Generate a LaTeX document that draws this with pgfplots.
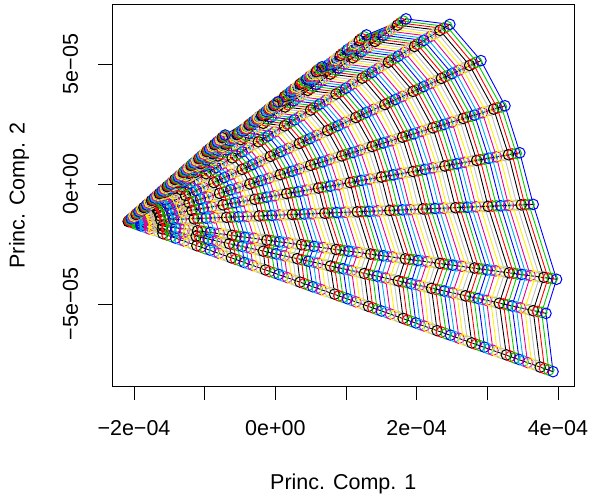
\documentclass[border=0pt]{standalone}
\usepackage{pgfplots}
\pgfplotsset{compat=1.18}
\usepackage{fontspec}
\setmainfont{Liberation Sans}
\definecolor{rgreen}{HTML}{00CD00}
\definecolor{rgray}{HTML}{BEBEBE}
\pgfplotscreateplotcyclelist{rpal}{
{black,mark=o},{red,mark=o},{rgreen,mark=o},{blue,mark=o},{cyan,mark=o},{magenta,mark=o},{yellow,mark=o},{rgray,mark=o}}
\def\P{\addplot coordinates}
\begin{document}
\begin{tikzpicture}
\path[use as bounding box] (0,0) rectangle (589bp,499bp);
\begin{axis}[at={(112.5bp,113bp)},anchor=south west,scale only axis,width=461.5bp,height=381.3bp,
xmin=-230.4,xmax=422.7,ymin=-841.7,ymax=747,
xtick={-200,-100,0,100,200,300,400},xticklabels={−2e−04,,0e+00,,2e−04,,4e−04},
ytick={-500,0,500},yticklabels={−5e−05,0e+00,5e−05},
tick align=outside,xtick pos=bottom,ytick pos=left,major tick length=14bp,
every tick/.style={black,line width=0.8bp},axis line style={line width=0.9bp},
tick label style={font=\fontsize{21.5bp}{24bp}\selectfont},
xticklabel style={anchor=center,yshift=-28bp},
yticklabel style={rotate=90,anchor=center,yshift=28bp},
every axis x label/.style={at={(axis description cs:0.5,0)},anchor=center,yshift=-98bp,font=\fontsize{21.5bp}{24bp}\selectfont},
every axis y label/.style={at={(axis description cs:0,0.5)},anchor=center,rotate=90,yshift=93.5bp,font=\fontsize{21.5bp}{24bp}\selectfont},
xlabel={Princ. Comp. 1},ylabel={Princ. Comp. 2},
cycle list name=rpal,
every axis plot/.append style={line width=0.9bp,mark size=5.3bp,mark options={solid,line width=1bp}}]
\P{(-208,-156)(-208,-156)};
\P{(-202,-162)(-202,-160)(-202,-158)(-202,-155)(-202,-153)(-203,-151)(-203,-149)(-203,-148)(-204,-147)(-205,-148)(-205,-150)(-206,-151)(-207,-152)};
\P{(-196,-169)(-196,-164)(-196,-161)(-196,-155)(-197,-150)(-197,-146)(-198,-142)(-199,-139)(-200,-139)(-201,-140)(-202,-143)(-204,-146)(-205,-149)};
\P{(-190,-175)(-190,-168)(-190,-163)(-191,-154)(-191,-147)(-192,-141)(-193,-136)(-194,-131)(-196,-130)(-198,-132)(-200,-136)(-202,-141)(-204,-145)};
\P{(-184,-181)(-184,-171)(-184,-166)(-185,-153)(-186,-144)(-186,-137)(-188,-129)(-190,-123)(-192,-122)(-194,-125)(-197,-130)(-199,-136)(-202,-141)};
\P{(-178,-188)(-178,-175)(-177,-168)(-179,-152)(-180,-142)(-181,-132)(-183,-122)(-185,-115)(-188,-113)(-191,-117)(-194,-123)(-197,-131)(-201,-138)};
\P{(-172,-194)(-172,-179)(-171,-171)(-173,-152)(-174,-139)(-176,-127)(-178,-115)(-180,-106)(-184,-105)(-188,-109)(-191,-117)(-195,-126)(-200,-134)};
\P{(-165,-200)(-166,-183)(-165,-173)(-167,-151)(-169,-136)(-170,-122)(-173,-109)(-176,-98)(-180,-96)(-184,-101)(-189,-110)(-193,-121)(-198,-131)};
\P{(-159,-207)(-160,-187)(-159,-175)(-162,-150)(-163,-133)(-165,-117)(-168,-102)(-171,-90)(-176,-88)(-181,-93)(-186,-104)(-191,-116)(-197,-127)};
\P{(-153,-213)(-154,-191)(-153,-178)(-156,-150)(-158,-130)(-160,-112)(-163,-95)(-167,-81)(-172,-79)(-177,-85)(-183,-97)(-189,-111)(-196,-123)};
\P{(-147,-219)(-148,-195)(-147,-180)(-150,-149)(-152,-127)(-154,-107)(-158,-88)(-162,-73)(-168,-71)(-174,-78)(-180,-91)(-187,-106)(-194,-120)};
\P{(-141,-226)(-142,-199)(-141,-183)(-144,-148)(-146,-124)(-149,-102)(-153,-82)(-157,-65)(-164,-62)(-171,-70)(-178,-84)(-184,-101)(-193,-116)};
\P{(-135,-232)(-136,-202)(-135,-185)(-139,-147)(-141,-121)(-143,-98)(-148,-75)(-153,-57)(-160,-54)(-167,-62)(-175,-78)(-182,-96)(-191,-112)};
\P{(-129,-238)(-130,-206)(-128,-188)(-133,-147)(-135,-118)(-138,-93)(-143,-68)(-148,-48)(-156,-45)(-164,-54)(-172,-71)(-180,-91)(-190,-109)};
\P{(-123,-244)(-124,-210)(-122,-190)(-127,-146)(-130,-116)(-133,-88)(-138,-61)(-144,-40)(-152,-37)(-160,-46)(-169,-65)(-178,-86)(-189,-105)};
\P{(-117,-251)(-118,-214)(-116,-192)(-121,-145)(-124,-113)(-127,-83)(-132,-54)(-139,-32)(-148,-28)(-157,-38)(-166,-58)(-176,-81)(-187,-101)};
\P{(-111,-257)(-112,-218)(-110,-195)(-115,-145)(-118,-110)(-122,-78)(-127,-48)(-134,-23)(-144,-20)(-153,-30)(-164,-52)(-174,-76)(-186,-98)};
\P{(-105,-263)(-107,-222)(-104,-197)(-110,-144)(-113,-107)(-116,-73)(-122,-41)(-130,-15)(-141,-11)(-150,-23)(-161,-45)(-172,-70)(-184,-94)};
\P{(-99,-270)(-101,-226)(-98,-200)(-104,-143)(-107,-104)(-111,-68)(-117,-34)(-125,-7)(-137,-3)(-147,-15)(-158,-39)(-169,-65)(-183,-91)};
\P{(-92,-276)(-95,-230)(-92,-202)(-98,-142)(-102,-101)(-106,-63)(-112,-27)(-121,2)(-133,6)(-143,-7)(-155,-32)(-167,-60)(-182,-87)};
\P{(-86,-282)(-89,-233)(-86,-205)(-92,-142)(-96,-98)(-100,-59)(-107,-21)(-116,10)(-129,15)(-140,1)(-153,-26)(-165,-55)(-180,-83)};
\P{(-80,-289)(-83,-237)(-79,-207)(-86,-141)(-90,-95)(-95,-54)(-102,-14)(-111,18)(-125,23)(-136,9)(-150,-19)(-163,-50)(-179,-80)};
\P{(-74,-295)(-77,-241)(-73,-209)(-81,-140)(-85,-92)(-90,-49)(-97,-7)(-107,26)(-121,32)(-133,17)(-147,-13)(-161,-45)(-178,-76)};
\P{(-68,-301)(-71,-245)(-67,-212)(-75,-140)(-79,-90)(-84,-44)(-92,0)(-102,35)(-117,40)(-130,25)(-144,-6)(-159,-40)(-176,-72)};
\P{(-62,-308)(-65,-249)(-61,-214)(-69,-139)(-74,-87)(-79,-39)(-87,6)(-98,43)(-113,49)(-126,32)(-142,0)(-157,-35)(-175,-69)};
\P{(-56,-314)(-59,-253)(-55,-217)(-63,-138)(-68,-84)(-73,-34)(-82,13)(-93,51)(-109,57)(-123,40)(-139,7)(-154,-30)(-173,-65)};
\P{(-50,-320)(-53,-257)(-49,-219)(-58,-137)(-62,-81)(-68,-29)(-77,20)(-88,60)(-105,66)(-119,48)(-136,13)(-152,-25)(-172,-61)};
\P{(-44,-327)(-47,-260)(-43,-222)(-52,-137)(-57,-78)(-63,-24)(-72,27)(-84,68)(-101,74)(-116,56)(-133,20)(-150,-20)(-171,-58)};
\P{(-38,-333)(-41,-264)(-37,-224)(-46,-136)(-51,-75)(-57,-20)(-67,34)(-79,76)(-97,83)(-113,64)(-130,26)(-148,-15)(-169,-54)};
\P{(-32,-339)(-35,-268)(-30,-226)(-40,-135)(-46,-72)(-52,-15)(-62,40)(-75,84)(-93,91)(-109,72)(-128,33)(-146,-10)(-168,-50)};
\P{(-26,-346)(-29,-272)(-24,-229)(-34,-134)(-40,-69)(-46,-10)(-57,47)(-70,93)(-89,100)(-106,80)(-125,39)(-144,-5)(-166,-47)};
\P{(-20,-352)(-23,-276)(-18,-231)(-29,-134)(-34,-66)(-41,-5)(-52,54)(-65,101)(-85,108)(-102,88)(-122,46)(-142,0)(-165,-43)};
\P{(-14,-358)(-17,-280)(-12,-234)(-23,-133)(-29,-64)(-36,0)(-47,61)(-61,109)(-81,117)(-99,95)(-119,52)(-139,5)(-164,-40)};
\P{(-8,-365)(-11,-284)(-6,-236)(-17,-132)(-23,-61)(-30,5)(-42,67)(-56,118)(-77,125)(-96,103)(-117,59)(-137,10)(-162,-36)};
\P{(-1,-371)(-5,-288)(0,-239)(-11,-132)(-18,-58)(-25,10)(-37,74)(-52,126)(-73,134)(-92,111)(-114,65)(-135,15)(-161,-32)};
\P{(5,-377)(1,-291)(6,-241)(-5,-131)(-12,-55)(-20,14)(-32,81)(-47,134)(-69,142)(-89,119)(-111,72)(-133,20)(-160,-29)};
\P{(11,-384)(7,-295)(12,-243)(0,-130)(-6,-52)(-14,19)(-27,88)(-42,142)(-65,151)(-85,127)(-108,78)(-131,25)(-158,-25)};
\P{(17,-390)(13,-299)(19,-246)(6,-129)(-1,-49)(-9,24)(-22,94)(-38,151)(-61,159)(-82,134)(-106,85)(-129,30)(-157,-21)};
\P{(23,-396)(19,-303)(25,-248)(12,-129)(5,-46)(-3,29)(-17,101)(-33,159)(-57,168)(-79,142)(-103,91)(-127,35)(-155,-18)};
\P{(29,-403)(25,-307)(31,-251)(18,-128)(10,-43)(2,34)(-12,108)(-29,167)(-53,176)(-75,150)(-100,98)(-124,40)(-154,-14)};
\P{(35,-409)(31,-311)(37,-253)(24,-127)(16,-40)(7,39)(-7,115)(-24,176)(-49,185)(-72,158)(-97,104)(-122,45)(-153,-11)};
\P{(41,-415)(37,-315)(43,-256)(29,-127)(22,-37)(13,44)(-2,122)(-19,184)(-45,194)(-68,166)(-95,111)(-120,50)(-151,-7)};
\P{(47,-422)(43,-319)(49,-258)(35,-126)(27,-35)(18,49)(3,128)(-15,192)(-41,202)(-65,174)(-92,117)(-118,55)(-150,-3)};
\P{(53,-428)(47,-322)(55,-260)(41,-125)(33,-32)(24,53)(8,135)(-10,200)(-37,211)(-62,182)(-89,124)(-116,60)(-148,0)};
\P{(59,-434)(54,-326)(61,-263)(47,-124)(38,-29)(29,58)(14,142)(-6,209)(-33,219)(-58,189)(-86,130)(-114,65)(-147,4)};
\P{(65,-440)(60,-330)(68,-265)(52,-124)(44,-26)(34,63)(19,149)(-1,217)(-29,228)(-55,197)(-84,137)(-112,70)(-146,8)};
\P{(71,-447)(66,-334)(74,-268)(58,-123)(50,-23)(40,68)(24,155)(4,225)(-25,236)(-51,205)(-81,143)(-110,75)(-144,11)};
\P{(78,-453)(72,-338)(80,-270)(64,-122)(55,-20)(45,73)(29,162)(8,234)(-21,245)(-48,213)(-78,150)(-107,80)(-143,15)};
\P{(84,-459)(78,-342)(86,-273)(70,-122)(61,-17)(50,78)(34,169)(13,242)(-17,253)(-45,221)(-75,156)(-105,85)(-142,19)};
\P{(90,-466)(84,-346)(92,-275)(75,-121)(66,-14)(56,83)(39,176)(17,250)(-13,262)(-41,229)(-72,163)(-103,90)(-140,22)};
\P{(96,-472)(90,-350)(98,-278)(81,-120)(72,-12)(61,88)(44,183)(22,259)(-10,270)(-38,237)(-70,169)(-101,96)(-139,26)};
\P{(102,-478)(96,-353)(104,-280)(87,-119)(78,-9)(67,92)(49,189)(27,267)(-6,279)(-34,244)(-67,176)(-99,101)(-137,29)};
\P{(108,-485)(102,-357)(110,-282)(93,-119)(83,-6)(72,97)(54,196)(31,275)(-2,287)(-31,252)(-64,182)(-97,106)(-136,33)};
\P{(114,-491)(108,-361)(117,-285)(99,-118)(89,-3)(77,102)(59,203)(36,283)(2,296)(-27,260)(-61,189)(-95,111)(-135,37)};
\P{(120,-497)(114,-365)(123,-287)(104,-117)(94,0)(83,107)(64,210)(40,292)(6,304)(-24,268)(-59,195)(-92,116)(-133,40)};
\P{(126,-504)(120,-369)(129,-290)(110,-117)(100,3)(88,112)(69,216)(45,300)(10,313)(-21,276)(-56,202)(-90,121)(-132,44)};
\P{(132,-510)(126,-373)(135,-292)(116,-116)(106,6)(94,117)(74,223)(50,308)(14,321)(-17,284)(-53,208)(-88,126)(-130,48)};
\P{(138,-516)(132,-377)(141,-295)(122,-115)(111,9)(99,122)(79,230)(54,317)(18,330)(-14,291)(-50,215)(-86,131)(-129,51)};
\P{(144,-523)(138,-381)(147,-297)(128,-114)(117,12)(104,127)(84,237)(59,325)(22,338)(-10,299)(-48,221)(-84,136)(-128,55)};
\P{(150,-529)(144,-384)(153,-299)(133,-114)(122,15)(110,131)(89,243)(63,333)(26,347)(-7,307)(-45,228)(-82,141)(-126,59)};
\P{(157,-535)(150,-388)(159,-302)(139,-113)(128,17)(115,136)(94,250)(68,341)(30,356)(-4,315)(-42,234)(-80,146)(-125,62)};
\P{(163,-542)(156,-392)(166,-304)(145,-112)(134,20)(120,141)(99,257)(72,350)(34,364)(0,323)(-39,241)(-77,151)(-124,66)};
\P{(169,-548)(162,-396)(172,-307)(151,-112)(139,23)(126,146)(104,264)(77,358)(38,373)(3,331)(-36,247)(-75,156)(-122,69)};
\P{(175,-554)(168,-400)(178,-309)(157,-111)(145,26)(131,151)(109,271)(82,366)(42,381)(7,339)(-34,254)(-73,161)(-121,73)};
\P{(181,-560)(174,-404)(184,-312)(162,-110)(150,29)(137,156)(114,277)(86,375)(46,390)(10,346)(-31,260)(-71,166)(-119,77)};
\P{(187,-567)(180,-408)(190,-314)(168,-109)(156,32)(142,161)(119,284)(91,383)(50,398)(13,354)(-28,267)(-69,171)(-118,80)};
\P{(193,-573)(186,-411)(196,-316)(174,-109)(162,35)(147,166)(124,291)(95,391)(54,407)(17,362)(-25,273)(-67,176)(-117,84)};
\P{(199,-579)(192,-415)(202,-319)(180,-108)(167,38)(153,171)(129,298)(100,399)(58,415)(20,370)(-23,280)(-65,181)(-115,88)};
\P{(205,-586)(198,-419)(208,-321)(186,-107)(173,41)(158,175)(134,304)(105,408)(62,424)(24,378)(-20,286)(-62,186)(-114,91)};
\P{(211,-592)(204,-423)(215,-324)(191,-107)(178,44)(164,180)(139,311)(109,416)(66,432)(27,386)(-17,293)(-60,191)(-112,95)};
\P{(217,-598)(210,-427)(221,-326)(197,-106)(184,46)(169,185)(145,318)(114,424)(70,441)(30,394)(-14,299)(-58,196)(-111,99)};
\P{(223,-605)(216,-431)(227,-329)(203,-105)(190,49)(174,190)(150,325)(118,432)(74,449)(34,401)(-11,306)(-56,201)(-110,102)};
\P{(229,-611)(221,-435)(233,-331)(209,-104)(195,52)(180,195)(155,331)(123,441)(78,458)(37,409)(-9,312)(-54,206)(-108,106)};
\P{(235,-617)(227,-439)(239,-333)(214,-104)(201,55)(185,200)(160,338)(128,449)(82,466)(41,417)(-6,319)(-52,211)(-107,109)};
\P{(242,-624)(233,-442)(245,-336)(220,-103)(206,58)(190,204)(165,345)(132,457)(86,475)(44,425)(-3,325)(-50,216)(-105,113)};
\P{(248,-630)(239,-446)(251,-338)(226,-102)(212,61)(196,209)(170,352)(137,465)(90,483)(48,433)(0,332)(-47,221)(-104,117)};
\P{(254,-636)(245,-450)(257,-341)(232,-102)(218,64)(201,214)(175,359)(141,474)(94,492)(51,441)(2,338)(-45,226)(-103,120)};
\P{(260,-643)(251,-454)(264,-343)(238,-101)(223,67)(207,219)(180,365)(146,482)(98,500)(54,449)(5,345)(-43,231)(-101,124)};
\P{(266,-649)(257,-458)(270,-345)(243,-100)(229,70)(212,224)(185,372)(151,490)(102,509)(58,456)(8,351)(-41,236)(-100,128)};
\P{(272,-655)(263,-462)(276,-348)(249,-99)(234,72)(217,229)(190,379)(155,499)(106,517)(61,464)(11,358)(-39,241)(-98,131)};
\P{(278,-662)(269,-466)(282,-350)(255,-99)(240,75)(223,234)(195,386)(160,507)(110,526)(65,472)(13,364)(-37,246)(-97,135)};
\P{(284,-668)(275,-469)(288,-353)(261,-98)(246,78)(228,239)(200,392)(164,515)(114,534)(68,480)(16,371)(-35,251)(-96,139)};
\P{(290,-674)(281,-473)(294,-355)(267,-97)(251,81)(234,243)(205,399)(169,523)(118,543)(71,488)(19,377)(-32,256)(-94,142)};
\P{(296,-680)(287,-477)(300,-358)(272,-97)(257,84)(239,248)(210,406)(174,532)(122,552)(75,496)(22,384)(-30,261)(-93,146)};
\P{(302,-687)(293,-481)(306,-360)(278,-96)(262,87)(244,253)(215,413)(178,540)(126,560)(78,504)(24,390)(-28,266)(-91,149)};
\P{(308,-693)(299,-485)(312,-362)(284,-95)(268,90)(250,258)(220,419)(183,548)(130,569)(82,512)(27,397)(-26,271)(-90,153)};
\P{(314,-699)(305,-489)(319,-365)(290,-94)(274,93)(255,263)(225,426)(187,557)(134,577)(85,519)(30,403)(-24,276)(-89,157)};
\P{(320,-706)(311,-493)(325,-367)(296,-94)(279,96)(261,268)(230,433)(192,565)(137,586)(88,527)(33,410)(-22,281)(-87,160)};
\P{(327,-712)(317,-497)(331,-370)(301,-93)(285,98)(266,273)(235,440)(197,573)(141,594)(92,535)(35,416)(-19,286)(-86,164)};
\P{(333,-718)(323,-500)(337,-372)(307,-92)(290,101)(271,278)(240,447)(201,582)(145,603)(95,543)(38,423)(-17,291)(-84,168)};
\P{(339,-725)(329,-504)(343,-375)(313,-91)(296,104)(277,282)(245,453)(206,590)(149,611)(99,551)(41,429)(-15,297)(-83,171)};
\P{(345,-731)(335,-508)(349,-377)(319,-91)(302,107)(282,287)(250,460)(210,598)(153,620)(102,559)(44,436)(-13,302)(-82,175)};
\P{(351,-737)(341,-512)(355,-379)(325,-90)(307,110)(287,292)(255,467)(215,606)(157,628)(105,566)(47,442)(-11,307)(-80,179)};
\P{(357,-744)(347,-516)(361,-382)(330,-89)(313,113)(293,297)(260,474)(220,615)(161,637)(109,574)(49,449)(-9,312)(-79,182)};
\P{(363,-750)(353,-520)(368,-384)(336,-89)(318,116)(298,302)(265,481)(224,623)(165,645)(112,582)(52,455)(-7,317)(-77,186)};
\P{(369,-756)(359,-524)(374,-387)(342,-88)(324,119)(304,307)(270,487)(229,631)(169,654)(116,590)(55,462)(-4,322)(-76,189)};
\P{(375,-763)(365,-528)(380,-389)(348,-87)(330,122)(309,312)(275,494)(233,640)(173,662)(119,598)(58,468)(-2,327)(-75,193)};
\P{(381,-769)(371,-531)(386,-392)(353,-86)(335,125)(314,317)(280,501)(238,648)(177,671)(122,606)(60,475)(0,332)(-73,197)};
\P{(387,-775)(377,-535)(392,-394)(359,-86)(341,127)(320,321)(285,508)(243,656)(181,679)(126,613)(63,481)(2,337)(-72,200)};
\P{(393,-782)(383,-539)(398,-397)(365,-85)(346,130)(325,326)(291,514)(247,665)(185,688)(129,621)(66,488)(4,342)(-71,204)};
\addplot[black,mark=none] coordinates {(-208,-156)(393,-782)};
\addplot[black,mark=none] coordinates {(-208,-156)(383,-539)};
\addplot[black,mark=none] coordinates {(-208,-156)(398,-397)};
\addplot[black,mark=none] coordinates {(-208,-156)(365,-85)};
\addplot[black,mark=none] coordinates {(-208,-156)(346,130)};
\addplot[black,mark=none] coordinates {(-208,-156)(325,326)};
\addplot[black,mark=none] coordinates {(-208,-156)(291,514)};
\addplot[black,mark=none] coordinates {(-208,-156)(247,665)};
\addplot[black,mark=none] coordinates {(-208,-156)(185,688)};
\addplot[black,mark=none] coordinates {(-208,-156)(129,621)};
\addplot[black,mark=none] coordinates {(-208,-156)(66,488)};
\addplot[black,mark=none] coordinates {(-208,-156)(4,342)};
\addplot[black,mark=none] coordinates {(-208,-156)(-71,204)};
\end{axis}
\end{tikzpicture}
\end{document}
